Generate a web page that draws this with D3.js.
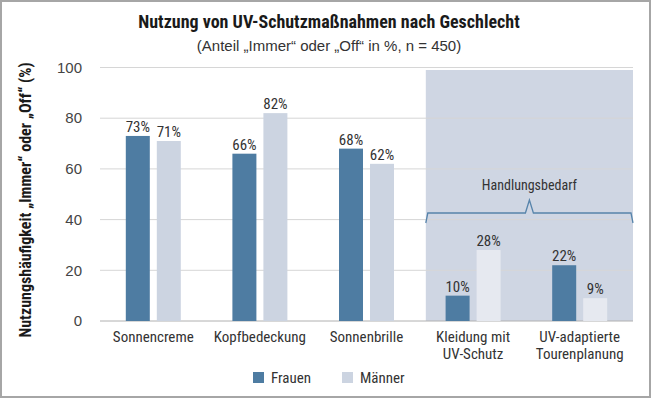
<!DOCTYPE html>
<html><head><meta charset="utf-8">
<script src="https://cdn.jsdelivr.net/npm/d3@7"></script>
<style>body{margin:0;background:#fff}svg{display:block}text{font-family:"Liberation Sans Narrow","Roboto Condensed","DejaVu Sans Condensed",sans-serif}.reg{font-family:"Liberation Sans",Arial,sans-serif}</style>
</head><body><svg id="c" width="651" height="398"></svg>
<script>
const categories = [["Sonnencreme"],["Kopfbedeckung"],["Sonnenbrille"],["Kleidung mit","UV-Schutz"],["UV-adaptierte","Tourenplanung"]];
const frauen = [73, 66, 68, 10, 22];
const maenner = [71, 82, 62, 28, 9];
const yTicks = [0, 20, 40, 60, 80, 100];
const series = ["Frauen", "Männer"];
const highlightFrom = 3;

const svg = d3.select("#c");
const W = 651, H = 398;
svg.append("rect").attr("x",1).attr("y",1).attr("width",W-2).attr("height",H-2).attr("fill","#fff").attr("stroke","#a6a6a6").attr("stroke-width",2);

const x = d3.scaleBand().domain(d3.range(categories.length)).range([100, 633]);
const y = d3.scaleLinear().domain([0, 100]).range([321, 67.5]);
const bw = 24, gap = 3.5;

// highlight region
const hx0 = x(highlightFrom) + 6;
svg.append("rect").attr("x", hx0).attr("y", y(100) + 2.5).attr("width", 633 - hx0).attr("height", y(0) - y(100) - 2.5).attr("fill", "#cfd6e3");

// gridlines
svg.append("g").selectAll("line").data(yTicks.filter(d => d > 0)).join("line")
  .attr("x1", 100).attr("x2", 633).attr("y1", d => y(d)).attr("y2", d => y(d))
  .attr("stroke", "#d6d6d6").attr("stroke-width", 1);
svg.append("line").attr("x1",100).attr("x2",633).attr("y1",y(0)).attr("y2",y(0)).attr("stroke","#b0b0b0").attr("stroke-width",1);

// y tick labels
svg.append("g").selectAll("text").data(yTicks).join("text").attr("class","reg")
  .attr("x", 82).attr("y", d => y(d)).attr("dy", "0.35em").attr("text-anchor", "end")
  .attr("font-size", 15).attr("fill", "#444").text(d => d);

// bars
const cx = i => x(i) + x.bandwidth() / 2;
const g = svg.append("g");
g.selectAll(".f").data(frauen).join("rect")
  .attr("x", (d, i) => cx(i) - gap - bw).attr("y", d => y(d)).attr("width", bw).attr("height", d => y(0) - y(d)).attr("fill", "#4e7ca2");
g.selectAll(".m").data(maenner).join("rect")
  .attr("x", (d, i) => cx(i) + gap).attr("y", d => y(d)).attr("width", bw).attr("height", d => y(0) - y(d))
  .attr("fill", (d, i) => i >= highlightFrom ? "#e6e9f0" : "#ccd4e1");

// value labels
g.selectAll(".fl").data(frauen).join("text")
  .attr("x", (d, i) => cx(i) - gap - bw / 2).attr("y", d => y(d) - 4).attr("text-anchor", "middle")
  .attr("font-size", 15).attr("fill", "#333").text(d => d + "%");
g.selectAll(".ml").data(maenner).join("text")
  .attr("x", (d, i) => cx(i) + gap + bw / 2).attr("y", d => y(d) - 4).attr("text-anchor", "middle")
  .attr("font-size", 15).attr("fill", "#333").text(d => d + "%");

// category labels
const cl = svg.append("g").selectAll("text").data(categories).join("text")
  .attr("x", (d, i) => cx(i)).attr("y", 342).attr("text-anchor", "middle").attr("font-size", 15).attr("fill", "#333");
cl.selectAll("tspan").data(d => d).join("tspan").attr("x", function(){ return this.parentNode.getAttribute("x"); })
  .attr("dy", (d, j) => j === 0 ? 0 : 17).text(d => d);

// brace
const bx0 = hx0, bx1 = 633, bm = (bx0 + bx1) / 2, by = 213;
svg.append("path").attr("d", `M${bx0},${by+10} L${bx0+2},${by} L${bm-4},${by} L${bm},${by-13} L${bm+4},${by} L${bx1-2},${by} L${bx1},${by+10}`)
  .attr("fill", "none").attr("stroke", "#5784ab").attr("stroke-width", 1.3);
svg.append("text").attr("x", bm).attr("y", 190).attr("text-anchor", "middle").attr("font-size", 14).attr("fill", "#333").text("Handlungsbedarf");

// titles
svg.append("text").attr("x", 329).attr("y", 28).attr("text-anchor", "middle").attr("font-size", 18).attr("font-weight", "bold").attr("fill", "#1a1a1a").text("Nutzung von UV-Schutzmaßnahmen nach Geschlecht");
svg.append("text").attr("class","reg").attr("x", 329).attr("y", 51).attr("text-anchor", "middle").attr("font-size", 15).attr("fill", "#333").text("(Anteil „Immer“ oder „Off“ in %, n = 450)");
svg.append("text").attr("transform", "translate(31,200) rotate(-90)").attr("text-anchor", "middle").attr("font-size", 16).attr("font-weight", "bold").attr("fill", "#1a1a1a").text("Nutzungshäufigkeit „Immer“ oder „Off“ (%)");

// legend
const lg = svg.append("g").selectAll("g").data(series).join("g").attr("transform", (d, i) => `translate(${253 + i * 89},372)`);
lg.append("rect").attr("width", 11).attr("height", 11).attr("fill", (d, i) => i === 0 ? "#4e7ca2" : "#ccd4e1");
lg.append("text").attr("x", 18).attr("y", 5.5).attr("dy", "0.35em").attr("font-size", 15).attr("fill", "#333").text(d => d);
</script></body></html>
